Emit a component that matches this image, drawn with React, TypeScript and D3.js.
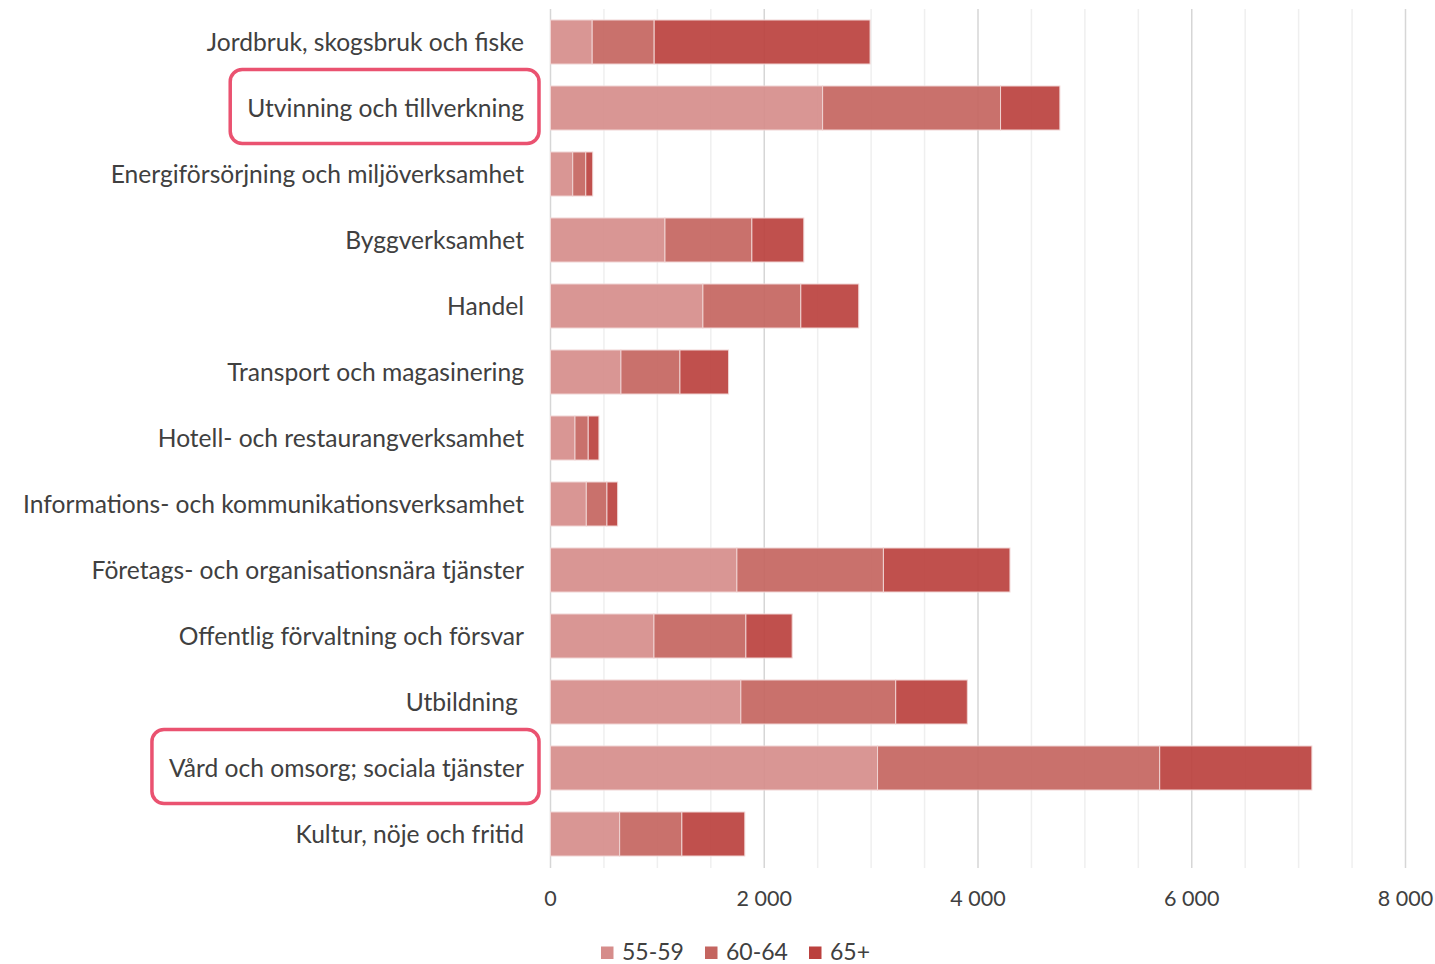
import React, { useEffect, useRef } from 'react';
import * as d3 from 'd3';

const categories = [
  'Jordbruk, skogsbruk och fiske',
  'Utvinning och tillverkning',
  'Energiförsörjning och miljöverksamhet',
  'Byggverksamhet',
  'Handel',
  'Transport och magasinering',
  'Hotell- och restaurangverksamhet',
  'Informations- och kommunikationsverksamhet',
  'Företags- och organisationsnära tjänster',
  'Offentlig förvaltning och försvar',
  'Utbildning ',
  'Vård och omsorg; sociala tjänster',
  'Kultur, nöje och fritid',
];

const age55to59 = [390, 2546, 208, 1071, 1426, 659, 229, 335, 1744, 968, 1781, 3060, 647];
const age60to64 = [580, 1665, 122, 813, 916, 552, 124, 193, 1371, 860, 1449, 2640, 582];
const age65plus = [2020, 555, 65, 486, 542, 455, 100, 100, 1184, 433, 670, 1424, 589];

const seriesNames = ['55-59', '60-64', '65+'];
// slightly deeper than the seen colours, the bars are a bit see-through
const seriesColors = ['#d68d8b', '#c46560', '#bb413e'];

const xTicks = [0, 2000, 4000, 6000, 8000];
const highlighted = ['Utvinning och tillverkning', 'Vård och omsorg; sociala tjänster'];

const WIDTH = 1435;
const HEIGHT = 964;
const FONT = 'Lato, "Open Sans", sans-serif';
const TEXT = '#404040';

type Row = { category: string; [key: string]: number | string };

const App: React.FC = () => {
  const ref = useRef<SVGSVGElement>(null);

  useEffect(() => {
    drawChart();
  }, []);

  const drawChart = () => {
    const svg = d3.select(ref.current);
    svg.selectAll('*').remove();

    const rows: Row[] = categories.map((c, i) => ({
      category: c,
      '55-59': age55to59[i],
      '60-64': age60to64[i],
      '65+': age65plus[i],
    }));

    const x = d3.scaleLinear().domain([0, 8000]).range([550.5, 1405.5]);
    const y = d3
      .scaleBand<string>()
      .domain(categories)
      .range([9, 867])
      .paddingInner(1 / 3)
      .paddingOuter(1 / 6);

    // gridlines every 500, darker at the labelled ticks
    const grid = svg.append('g');
    grid
      .selectAll('line')
      .data(d3.range(0, 8001, 500))
      .enter()
      .append('line')
      .attr('x1', d => x(d))
      .attr('x2', d => x(d))
      .attr('y1', 9)
      .attr('y2', 868)
      .attr('stroke', d => (d % 2000 === 0 ? '#d6d6d6' : '#efefef'))
      .attr('stroke-width', 1.5);

    // stacked bars
    const stack = d3.stack<Row>().keys(seriesNames).value((d, k) => d[k] as number);
    const layers = stack(rows);

    svg
      .append('g')
      .selectAll('g')
      .data(layers)
      .enter()
      .append('g')
      .attr('fill', (d, i) => seriesColors[i])
      .attr('fill-opacity', 0.92)
      .selectAll('rect')
      .data(d => d)
      .enter()
      .append('rect')
      .attr('x', d => x(d[0]))
      .attr('width', d => x(d[1]) - x(d[0]))
      .attr('y', d => y(d.data.category)!)
      .attr('height', y.bandwidth())
      .attr('stroke', '#f0d4d3')
      .attr('stroke-width', 1);

    // category labels
    const labels = svg
      .append('g')
      .selectAll('text')
      .data(categories)
      .enter()
      .append('text')
      .attr('x', 524)
      .attr('y', d => y(d)! + y.bandwidth() / 2)
      .attr('dy', '0.35em')
      .attr('text-anchor', 'end')
      .style('white-space', 'pre')
      .attr('font-family', FONT)
      .attr('font-size', 24.6)
      .attr('fill', TEXT)
      .text(d => d);

    // highlight boxes around some labels
    labels
      .filter(d => highlighted.includes(d))
      .each(function (d) {
        const w = (this as SVGTextElement).getComputedTextLength();
        const cy = y(d)! + y.bandwidth() / 2 - 1.5;
        svg
          .append('rect')
          .attr('x', 524 - w - 17)
          .attr('y', cy - 37)
          .attr('width', w + 32)
          .attr('height', 74)
          .attr('rx', 12)
          .attr('fill', 'none')
          .attr('stroke', '#ea5270')
          .attr('stroke-width', 3.5);
      });

    // x tick labels
    svg
      .append('g')
      .selectAll('text')
      .data(xTicks)
      .enter()
      .append('text')
      .attr('x', d => x(d))
      .attr('y', 898)
      .attr('dy', '0.35em')
      .attr('text-anchor', 'middle')
      .attr('font-family', FONT)
      .attr('font-size', 21.5)
      .attr('fill', TEXT)
      .text(d => d3.format(',')(d).replace(/,/g, '\u00a0'));

    // legend
    const legendX = [601, 705, 809];
    const legend = svg
      .append('g')
      .selectAll('g')
      .data(seriesNames)
      .enter()
      .append('g')
      .attr('transform', (d, i) => `translate(${legendX[i]}, 952)`);
    legend
      .append('rect')
      .attr('x', 0)
      .attr('y', -5.5)
      .attr('width', 12.5)
      .attr('height', 12.5)
      .attr('fill', (d, i) => seriesColors[i]);
    legend
      .append('text')
      .attr('x', 21)
      .attr('dy', '0.35em')
      .attr('font-family', FONT)
      .attr('font-size', 23)
      .attr('fill', TEXT)
      .text(d => d);
  };

  return (
    <svg
      ref={ref}
      width={WIDTH}
      height={HEIGHT}
      style={{ position: 'absolute', left: 0, top: 0, background: '#fff' }}
    />
  );
};

export default App;
